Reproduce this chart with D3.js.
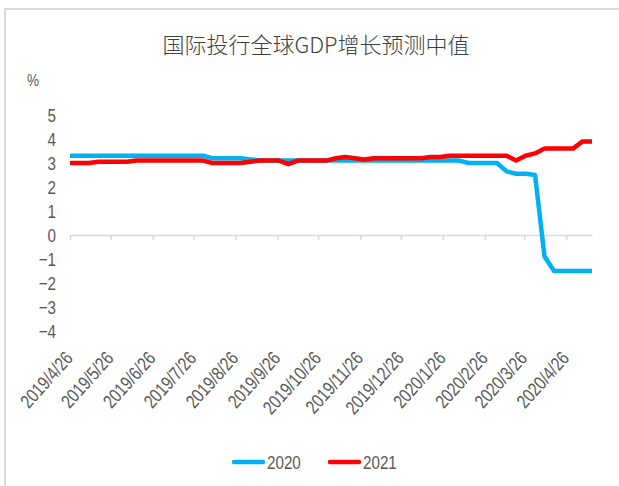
<!DOCTYPE html>
<html>
<head>
<meta charset="utf-8">
<script src="https://cdn.jsdelivr.net/npm/d3@7"></script>
<style>
  body { margin: 0; background: #fff; }
  text { font-family: "Liberation Sans", Arial, sans-serif; fill: #595959; }
</style>
</head>
<body>
<svg id="chart" width="619" height="486"></svg>
<script>
// weekly observation dates
const dates = [
  '2019/4/26', '2019/5/3', '2019/5/10', '2019/5/17', '2019/5/24', '2019/5/31',
  '2019/6/7', '2019/6/14', '2019/6/21', '2019/6/28', '2019/7/5', '2019/7/12',
  '2019/7/19', '2019/7/26', '2019/8/2', '2019/8/9', '2019/8/16', '2019/8/23',
  '2019/8/30', '2019/9/6', '2019/9/13', '2019/9/20', '2019/9/27', '2019/10/4',
  '2019/10/11', '2019/10/18', '2019/10/25', '2019/11/1', '2019/11/8', '2019/11/15',
  '2019/11/22', '2019/11/29', '2019/12/6', '2019/12/13', '2019/12/20', '2019/12/27',
  '2020/1/3', '2020/1/10', '2020/1/17', '2020/1/24', '2020/1/31', '2020/2/7',
  '2020/2/14', '2020/2/21', '2020/2/28', '2020/3/6', '2020/3/13', '2020/3/20',
  '2020/3/27', '2020/4/3', '2020/4/10', '2020/4/17', '2020/4/24', '2020/5/1',
  '2020/5/8', '2020/5/15'
];

const gdp2020 = [
  3.3, 3.3, 3.3, 3.3, 3.3, 3.3, 3.3, 3.3, 3.3, 3.3, 3.3, 3.3, 3.3, 3.3, 3.3,
  3.2, 3.2, 3.2, 3.2, 3.15,
  3.1, 3.1, 3.1, 3.1, 3.1, 3.1, 3.1, 3.1, 3.1, 3.1, 3.1, 3.1, 3.1, 3.1, 3.1,
  3.1, 3.1, 3.1, 3.1, 3.1, 3.1, 3.1,
  3.0, 3.0, 3.0, 3.0, 2.65, 2.55, 2.55, 2.5, -0.9,
  -1.5, -1.5, -1.5, -1.5, -1.5
];

const gdp2021 = [
  3.0, 3.0, 3.0, 3.05, 3.05, 3.05, 3.05,
  3.1, 3.1, 3.1, 3.1, 3.1, 3.1, 3.1, 3.1,
  3.0, 3.0, 3.0, 3.0, 3.05, 3.1, 3.1, 3.1, 2.95,
  3.1, 3.1, 3.1, 3.1, 3.2, 3.25, 3.2, 3.15,
  3.2, 3.2, 3.2, 3.2, 3.2, 3.2, 3.25, 3.25,
  3.3, 3.3, 3.3, 3.3, 3.3, 3.3, 3.3, 3.1, 3.3, 3.4,
  3.6, 3.6, 3.6, 3.6, 3.9, 3.9
];

const seriesNames = ['2020', '2021'];
const seriesColors = ['#00b0f0', '#ff0000'];
const xTickLabels = [
  '2019/4/26', '2019/5/26', '2019/6/26', '2019/7/26', '2019/8/26', '2019/9/26',
  '2019/10/26', '2019/11/26', '2019/12/26', '2020/1/26', '2020/2/26', '2020/3/26',
  '2020/4/26'
];
const yTicks = [5, 4, 3, 2, 1, 0, -1, -2, -3, -4];

const parse = d3.timeParse('%Y/%m/%d');
const svg = d3.select('#chart');

// outer frame (only top and left edges fall inside the picture)
svg.append('rect')
  .attr('x', 5).attr('y', 9)
  .attr('width', 640).attr('height', 500)
  .attr('fill', 'none')
  .attr('stroke', '#d9d9d9')
  .attr('stroke-width', 2);

svg.append('text')
  .attr('x', 316).attr('y', 53)
  .attr('text-anchor', 'middle')
  .style('font-family', '"Noto Sans CJK SC", sans-serif')
  .style('font-size', '22px')
  .style('font-weight', 300)
  .style('fill', '#404040')
  .text('国际投行全球GDP增长预测中值');

svg.append('text')
  .attr('transform', 'translate(27,86) scale(0.8,1)')
  .style('font-size', '17px')
  .text('%');

const xScale = d3.scaleTime()
  .domain([parse(dates[0]), parse(dates[dates.length - 1])])
  .range([70, 592]);
const yScale = d3.scaleLinear()
  .domain([-4, 5])
  .range([331, 115]);

// y labels (narrow look)
svg.append('g')
  .selectAll('text')
  .data(yTicks)
  .join('text')
  .attr('transform', d => `translate(56,${yScale(d)}) scale(0.8,1)`)
  .attr('dy', '0.36em')
  .attr('text-anchor', 'end')
  .style('font-size', '19px')
  .text(d => d < 0 ? '\u2212' + Math.abs(d) : d);

// zero axis with monthly ticks
const xAxis = d3.axisBottom(xScale)
  .tickValues(xTickLabels.map(parse))
  .tickSize(5)
  .tickSizeOuter(0)
  .tickFormat('');
const axisG = svg.append('g')
  .attr('transform', `translate(0,${yScale(0)})`)
  .call(xAxis);
axisG.select('.domain').attr('stroke', '#d9d9d9').attr('stroke-width', 1.5);
axisG.selectAll('.tick line').attr('stroke', '#d9d9d9').attr('stroke-width', 1.5);

// x labels sit at the bottom of the plot
svg.append('g')
  .selectAll('text')
  .data(xTickLabels)
  .join('text')
  .attr('text-anchor', 'end')
  .attr('transform', d => `translate(${xScale(parse(d)) + 4},359) rotate(-48) scale(0.8,1)`)
  .style('font-size', '19px')
  .text(d => d);

const line = d3.line()
  .x((d, i) => xScale(parse(dates[i])))
  .y(d => yScale(d));

[gdp2020, gdp2021].forEach((values, k) => {
  svg.append('path')
    .datum(values)
    .attr('fill', 'none')
    .attr('stroke', seriesColors[k])
    .attr('stroke-width', 4.5)
    .attr('stroke-linejoin', 'round')
    .attr('d', line);
});

// legend
const legend = svg.append('g').selectAll('g')
  .data(seriesNames)
  .join('g')
  .attr('transform', (d, i) => `translate(${232 + i * 96},462)`);
legend.append('line')
  .attr('x1', 2).attr('x2', 31)
  .attr('stroke', (d, i) => seriesColors[i])
  .attr('stroke-width', 4.5)
  .attr('stroke-linecap', 'round');
legend.append('text')
  .attr('transform', 'translate(35,0) scale(0.8,1)')
  .attr('dy', '0.36em')
  .style('font-size', '19px')
  .text(d => d);
</script>
</body>
</html>
